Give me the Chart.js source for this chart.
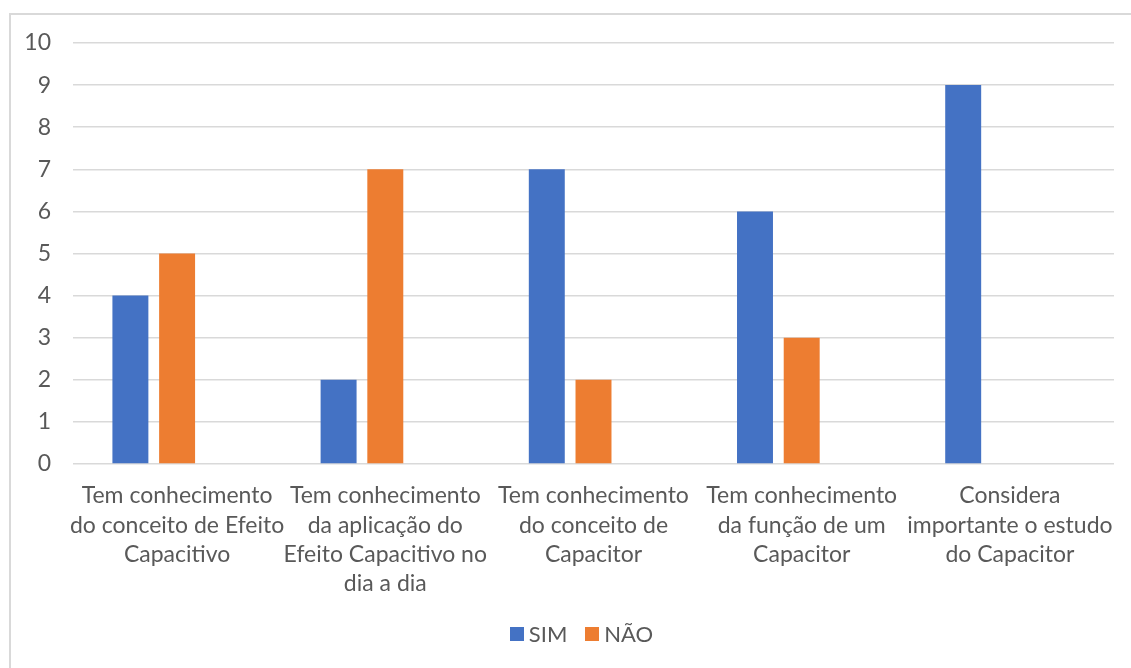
<!DOCTYPE html>
<html>
<head>
<meta charset="utf-8">
<script src="https://cdn.jsdelivr.net/npm/chart.js@4.4.1/dist/chart.umd.min.js"></script>
<style>
  html, body { margin: 0; padding: 0; background: #ffffff; overflow: hidden; }
  #wrap { position: relative; width: 1131px; height: 668px; overflow: hidden; }
  #frame { position: absolute; left: 9px; top: 13px; width: 1200px; height: 700px;
           border: 2px solid #d9d9d9; box-sizing: border-box; }
  #chart { position: absolute; left: 0; top: 0; }
  #legend { position: absolute; left: 0; top: 620px; width: 1163px; display: flex;
            justify-content: center; font-family: Lato, "Open Sans", sans-serif;
            font-size: 22px; color: #595959; }
  .item { display: flex; align-items: center; margin: 0 9px; }
  .swatch { width: 14px; height: 14px; margin-right: 5px; }
</style>
</head>
<body>
<div id="wrap">
  <div id="frame"></div>
  <canvas id="chart" width="1131" height="668"></canvas>
  <div id="legend"></div>
</div>
<script>
// Survey questions (one line per array entry)
const categories = [
  ["Tem conhecimento", "do conceito de Efeito", "Capacitivo"],
  ["Tem conhecimento", "da aplicação do", "Efeito Capacitivo no", "dia a dia"],
  ["Tem conhecimento", "do conceito de", "Capacitor"],
  ["Tem conhecimento", "da função de um", "Capacitor"],
  ["Considera", "importante o estudo", "do Capacitor"]
];
const simValues = [4, 2, 7, 6, 9];
const naoValues = [5, 7, 2, 3, 0];
// third (empty) series column of the workbook
const emptyValues = [null, null, null, null, null];
const yTicks = [0, 1, 2, 3, 4, 5, 6, 7, 8, 9, 10];

const FONT = 'Lato, "Open Sans", sans-serif';
const TEXT = '#595959';
const GRID = '#d9d9d9';

const datasets = [
  { label: 'SIM', data: simValues, backgroundColor: '#4472C4' },
  { label: 'NÃO', data: naoValues, backgroundColor: '#ED7D31' },
  { label: '', data: emptyValues, backgroundColor: '#A5A5A5' }
];

const chart = new Chart(document.getElementById('chart'), {
  type: 'bar',
  data: { labels: categories, datasets: datasets },
  options: {
    responsive: false,
    animation: false,
    events: [],
    layout: { padding: { left: 0, right: 17, top: 43, bottom: 0 } },
    datasets: { bar: { categoryPercentage: 0.673, barPercentage: 0.77 } },
    plugins: { legend: { display: false }, tooltip: { enabled: false } },
    scales: {
      x: {
        grid: { display: false },
        border: { display: false },
        ticks: {
          color: TEXT, font: { family: FONT, size: 23, lineHeight: 1.28 },
          maxRotation: 0, minRotation: 0, autoSkip: false, padding: 9
        },
        afterFit: s => { s.height = 204; }
      },
      y: {
        min: 0, max: 10,
        grid: { color: GRID, lineWidth: 1.5, drawTicks: false },
        border: { display: false },
        afterBuildTicks: s => { s.ticks = yTicks.map(v => ({ value: v })); },
        ticks: { color: TEXT, font: { family: FONT, size: 23 }, padding: 22 },
        afterFit: s => { s.width = 73; }
      }
    }
  }
});

// Legend for the named series
const legend = document.getElementById('legend');
chart.data.datasets.filter(d => d.label !== '').forEach(d => {
  const item = document.createElement('div');
  item.className = 'item';
  const sw = document.createElement('span');
  sw.className = 'swatch';
  sw.style.background = d.backgroundColor;
  const tx = document.createElement('span');
  tx.textContent = d.label;
  item.appendChild(sw);
  item.appendChild(tx);
  legend.appendChild(item);
});
</script>
</body>
</html>
